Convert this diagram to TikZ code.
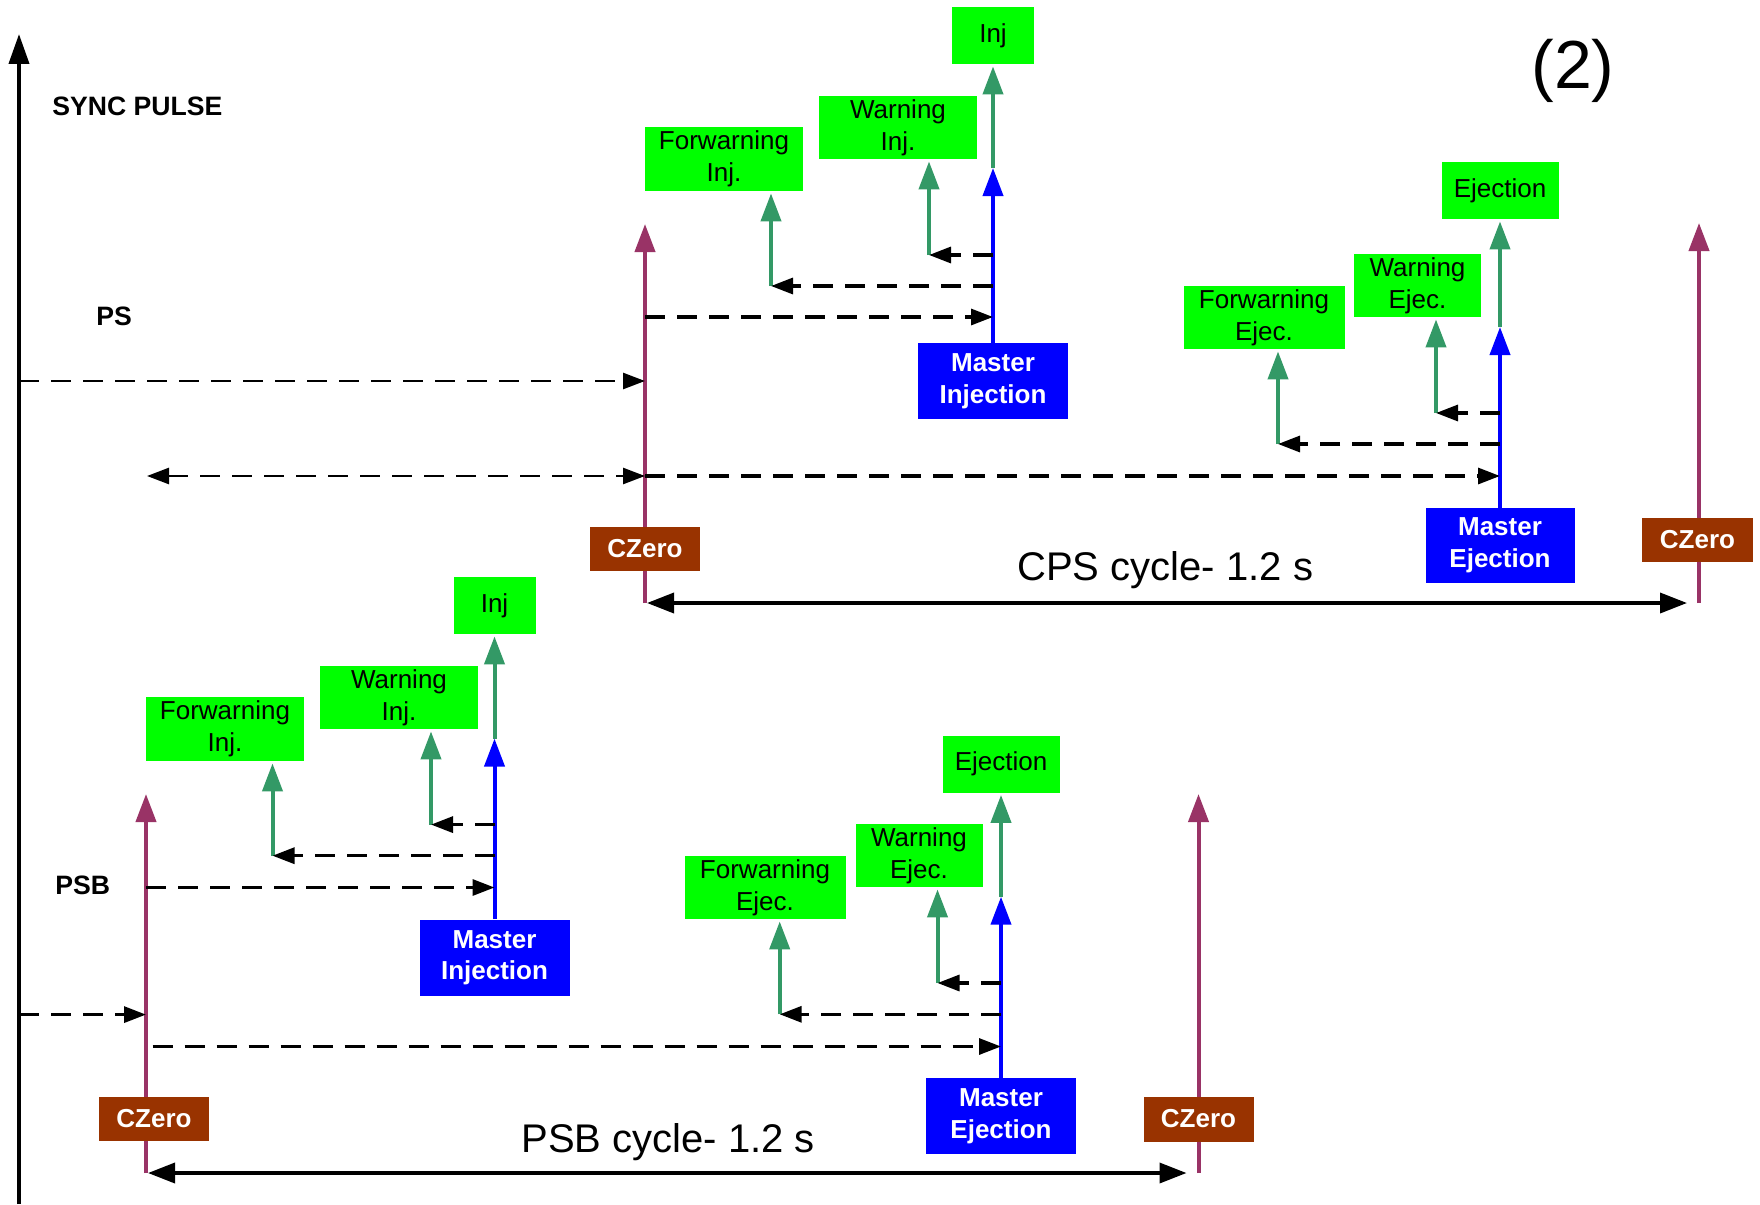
\documentclass[tikz,border=0pt]{standalone}
\usepackage{fontspec}
\setmainfont{Liberation Sans}
\usetikzlibrary{arrows.meta}

\definecolor{evtgreen}{RGB}{0,255,0}
\definecolor{siggreen}{RGB}{51,153,102}
\definecolor{mastblue}{RGB}{0,0,255}
\definecolor{cycpurple}{RGB}{153,51,102}
\definecolor{czbrown}{RGB}{153,51,0}

\tikzset{
  bigtip/.tip={Triangle[length=14pt,width=10pt]},
  dashtip/.tip={Triangle[length=11pt,width=8pt]},
  axtip/.tip={Triangle[length=15pt,width=10pt]},
  cyctip/.tip={Triangle[length=13.5pt,width=10pt]}
}

\begin{document}
\begin{tikzpicture}[x=0.5pt,y=-0.5pt,
  sz/.style 2 args={minimum width=#1*0.5pt, minimum height=#2*0.5pt},
  evt/.style={fill=evtgreen, inner sep=0pt, align=center,
    font=\fontsize{13}{15.8}\selectfont},
  master/.style={fill=mastblue, text=white, inner sep=0pt, align=center,
    font=\fontsize{13}{15.8}\selectfont\bfseries},
  czero/.style={fill=czbrown, text=white, inner sep=0pt,
    font=\fontsize{13}{15.8}\selectfont\bfseries},
  lbl/.style={inner sep=0pt, anchor=base west,
    font=\fontsize{13.3}{16}\selectfont\bfseries},
  cyclbl/.style={inner sep=0pt, anchor=base west,
    font=\fontsize{20}{24}\selectfont},
  czline/.style={draw=cycpurple, line width=2pt, -bigtip},
  mastline/.style={draw=mastblue, line width=2pt, -bigtip},
  sigline/.style={draw=siggreen, line width=2pt, -bigtip, shorten >=1pt},
  dasharrow/.style={draw=black, line width=1.6pt, dash pattern=on 10pt off 6pt, -dashtip},
  thindash/.style={dasharrow, line width=1.3pt},
  axisline/.style={draw=black, line width=2pt, -axtip},
  cycarrow/.style={draw=black, line width=1.8pt, cyctip-cyctip}
]
\fill[white] (0,0) rectangle (1760,1204);
\useasboundingbox (0,0) rectangle (1760,1204);

% ---------- time axis and labels ----------
\coordinate (axBot) at (19,1204);
\coordinate (axTop) at (19,34);
\draw[axisline] (axBot) -- (axTop);
\node[lbl] (sync) at (52,116) {SYNC PULSE};
\node[lbl] (psl)  at (96,325) {PS};
\node[lbl] (psbl) at (55,894) {PSB};
\node[inner sep=0pt, anchor=base west, font=\fontsize{34}{38}\selectfont] (num) at (1531,89) {(2)};

% ---------- PS cycle ----------
\coordinate (pT1base) at (645,603);
\coordinate (pT1tip)  at (645,224);
\coordinate (pT2base) at (1699,603);
\coordinate (pT2tip)  at (1699,223);
\draw[czline] (pT1base) -- (pT1tip);
\draw[czline] (pT2base) -- (pT2tip);

\node[evt, sz={82}{57}]   (injT)     at (993,35.5)   {Inj};
\node[evt, sz={158}{63}]  (warnInjT) at (898,127.5)  {Warning\\Inj.};
\node[evt, sz={158}{64}]  (fwInjT)   at (724,159)    {Forwarning\\Inj.};
\node[master, sz={150}{76}] (mInjT)  at (993,381)    {Master\\Injection};
\node[evt, sz={117}{57}]  (ejT)      at (1500,190.5) {Ejection};
\node[evt, sz={127}{63}]  (warnEjT)  at (1417.5,285.5) {Warning\\Ejec.};
\node[evt, sz={161}{63}]  (fwEjT)    at (1264,317.5) {Forwarning\\Ejec.};
\node[master, sz={149}{75}] (mEjT)   at (1500,545.5) {Master\\Ejection};
\node[czero, sz={110}{44}] (czT1)    at (645,548.5)  {CZero};
\node[czero, sz={111}{44}] (czT2)    at (1697.5,540) {CZero};

% injection chain
\coordinate (bTI) at (993,168);
\draw[sigline] (bTI) -- (injT.south);
\draw[mastline] (mInjT.north) -- (bTI);
\coordinate (cWIT) at (929,255);
\coordinate (cFIT) at (771,286);
\draw[sigline] (cWIT) -- (cWIT |- warnInjT.south);
\draw[sigline] (cFIT) -- (cFIT |- fwInjT.south);
\draw[dasharrow] (mInjT.north |- cWIT) -- (cWIT);
\draw[dasharrow] (mInjT.north |- cFIT) -- (cFIT);
\coordinate (sTI) at (645,317);
\draw[dasharrow] (sTI) -- (mInjT.north |- sTI);
\coordinate (axT) at (19,381);
\draw[thindash] (axT) -- (pT1tip |- axT);

% ejection chain
\coordinate (bTE) at (1500,327);
\draw[sigline] (bTE) -- (ejT.south);
\draw[mastline] (mEjT.north) -- (bTE);
\coordinate (cWET) at (1436,413);
\coordinate (cFET) at (1278,444);
\draw[sigline] (cWET) -- (cWET |- warnEjT.south);
\draw[sigline] (cFET) -- (cFET |- fwEjT.south);
\draw[dasharrow] (mEjT.north |- cWET) -- (cWET);
\draw[dasharrow] (mEjT.north |- cFET) -- (cFET);
\coordinate (relT) at (147,476);
\draw[thindash, dashtip-dashtip] (relT) -- (pT1tip |- relT);
\draw[dasharrow] (pT1tip |- relT) -- (mEjT.north |- relT);

% cycle length
\draw[cycarrow, shorten <=1pt, shorten >=6pt] (pT1base) -- (pT2base);
\node[cyclbl] (cpsl) at (1017,580) {CPS cycle- 1.2 s};

% ---------- PSB cycle ----------
\coordinate (pB1base) at (146,1173);
\coordinate (pB1tip)  at (146,794);
\coordinate (pB2base) at (1198.5,1173);
\coordinate (pB2tip)  at (1198.5,794);
\draw[czline] (pB1base) -- (pB1tip);
\draw[czline] (pB2base) -- (pB2tip);

\node[evt, sz={82}{57}]   (injB)     at (494.5,605.5) {Inj};
\node[evt, sz={158}{63}]  (warnInjB) at (399,697.5)   {Warning\\Inj.};
\node[evt, sz={158}{64}]  (fwInjB)   at (225,729)     {Forwarning\\Inj.};
\node[master, sz={150}{76}] (mInjB)  at (494.5,957.6) {Master\\Injection};
\node[evt, sz={117}{57}]  (ejB)      at (1001,764)    {Ejection};
\node[evt, sz={127}{63}]  (warnEjB)  at (919,855.5)   {Warning\\Ejec.};
\node[evt, sz={161}{63}]  (fwEjB)    at (765,887.5)   {Forwarning\\Ejec.};
\node[master, sz={150}{76}] (mEjB)   at (1001,1116)   {Master\\Ejection};
\node[czero, sz={110}{44}] (czB1)    at (154,1119)    {CZero};
\node[czero, sz={110}{45}] (czB2)    at (1198.5,1119) {CZero};

% injection chain
\coordinate (bBI) at (494.5,738.6);
\draw[sigline] (bBI) -- (injB.south);
\draw[mastline] (mInjB.north) -- (bBI);
\coordinate (cWIB) at (431,824.6);
\coordinate (cFIB) at (272.5,855.7);
\draw[sigline] (cWIB) -- (cWIB |- warnInjB.south);
\draw[sigline] (cFIB) -- (cFIB |- fwInjB.south);
\draw[dasharrow] (mInjB.north |- cWIB) -- (cWIB);
\draw[dasharrow] (mInjB.north |- cFIB) -- (cFIB);
\coordinate (sBI) at (146,887.5);
\draw[dasharrow] (sBI) -- (mInjB.north |- sBI);
\coordinate (axB) at (19,1014.6);
\draw[dasharrow] (axB) -- (pB1tip |- axB);

% ejection chain
\coordinate (bBE) at (1001,896.7);
\draw[sigline] (bBE) -- (ejB.south);
\draw[mastline] (mEjB.north) -- (bBE);
\coordinate (cWEB) at (937.5,983);
\coordinate (cFEB) at (779.7,1014.3);
\draw[sigline] (cWEB) -- (cWEB |- warnEjB.south);
\draw[sigline] (cFEB) -- (cFEB |- fwEjB.south);
\draw[dasharrow] (mEjB.north |- cWEB) -- (cWEB);
\draw[dasharrow] (mEjB.north |- cFEB) -- (cFEB);
\coordinate (sBE) at (152.7,1046.5);
\draw[dasharrow] (sBE) -- (mEjB.north |- sBE);

% cycle length
\draw[cycarrow, shorten <=1pt, shorten >=6pt] (pB1base) -- (pB2base);
\node[cyclbl] (psbcl) at (521,1152) {PSB cycle- 1.2 s};
\end{tikzpicture}
\end{document}
